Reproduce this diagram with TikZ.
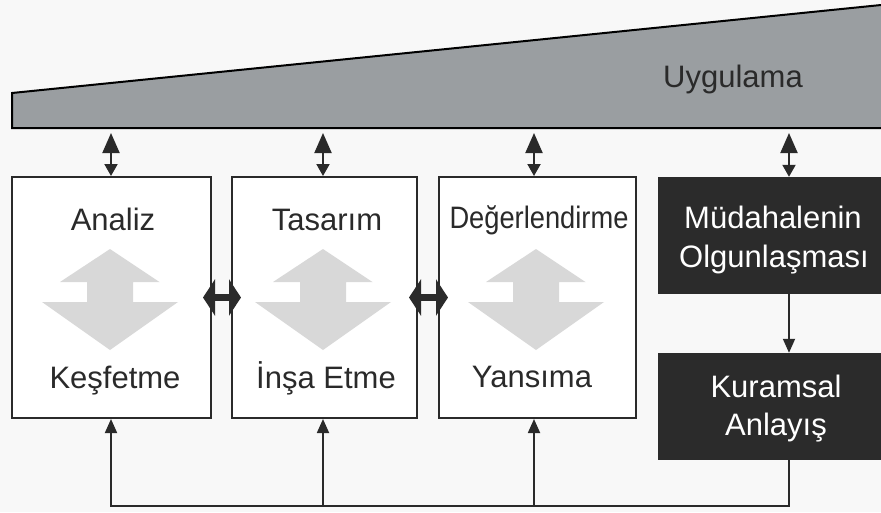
\documentclass[tikz,border=0pt]{standalone}
\usepackage{fontspec}
\setmainfont{Liberation Sans}
\usetikzlibrary{arrows.meta,calc}
\definecolor{bgc}{HTML}{F8F8F8}
\definecolor{wedgec}{HTML}{9A9EA1}
\definecolor{darkc}{HTML}{2B2B2B}
\definecolor{inkc}{HTML}{2A2A2A}
\definecolor{ghost}{HTML}{D8D8D8}
\begin{document}
\begin{tikzpicture}[x=1pt,y=-1pt,
  wbox/.style={draw=inkc, line width=2pt, fill=white, inner sep=0pt, minimum height=241pt},
  dbox/.style={fill=darkc, inner sep=0pt, minimum width=223pt},
  lbl/.style={text=inkc, font=\fontsize{31}{39}\selectfont, inner sep=0pt, anchor=base},
  wlbl/.style={text=white, font=\fontsize{31}{39}\selectfont, inner sep=0pt, anchor=base},
  vdbl/.style={draw=inkc, line width=2pt, {Triangle[width=17pt,length=20pt]}-{Triangle[width=13pt,length=12pt]}},
  hdbl/.style={draw=darkc, line width=7pt, {Triangle[width=36pt,length=12pt]}-{Triangle[width=36pt,length=12pt]}, shorten <=-9pt, shorten >=-10pt},
  conn/.style={draw=inkc, line width=1.8pt, line join=miter, -{Triangle[width=12pt,length=14pt]}},
  ghostarrow/.pic={\fill[ghost] (-1.5,-48.5) -- (48,-15.5) -- (21.5,-15.5) -- (21.5,4.5) -- (66.5,4.5) -- (-1.5,52.5) -- (-69.5,4.5) -- (-24.5,4.5) -- (-24.5,-15.5) -- (-51.5,-15.5) -- cycle;}
]
\fill[bgc] (0,0) rectangle (881,512);
\useasboundingbox (0,0) rectangle (881,512);

% wedge
\fill[wedgec] (12,93) -- (881,5) -- (881,128) -- (12,128) -- cycle;
\draw[black, line width=2pt, line join=miter] (881,128) -- (12,128) -- (12,93) -- (881,5);
\node[text=inkc, font=\fontsize{31}{39}\selectfont, inner sep=0pt, anchor=base] (uyg) at (733,87) {Uygulama};

% boxes
\node[wbox, minimum width=199pt] (b1) at (111.5,297.5) {};
\node[wbox, minimum width=185pt] (b2) at (324.5,297.5) {};
\node[wbox, minimum width=197pt] (b3) at (537.5,297.5) {};
\node[dbox, minimum height=117pt] (d1) at (769.5,235.5) {};
\node[dbox, minimum height=107pt] (d2) at (769.5,406.5) {};

% ghost arrows
\pic (g1) at (b1.center) {ghostarrow};
\pic (g2) at (b2.center) {ghostarrow};
\pic (g3) at (b3.center) {ghostarrow};

% labels
\node[lbl] (l1a) at (113,230) {Analiz};
\node[lbl] (l1b) at (115,388) {Keşfetme};
\node[lbl] (l2a) at (327,230) {Tasarım};
\node[lbl] (l2b) at (326,388) {İnşa Etme};
\node[lbl] (l3a) at (539,228) {\scalebox{0.88}[1]{Değerlendirme}};
\node[lbl] (l3b) at (532,387) {Yansıma};
\node[wlbl] (l4a) at (773,228) {Müdahalenin};
\node[wlbl] (l4b) at (774,267) {Olgunlaşması};
\node[wlbl] (l5a) at (776,397) {Kuramsal};
\node[wlbl] (l5b) at (776,435) {Anlayış};

% vertical double arrows
\coordinate (u1) at (111,133);
\coordinate (u2) at (323,133);
\coordinate (u3) at (534,133);
\coordinate (u4) at (789,133);
\draw[vdbl] (u1) -- (u1 |- b1.north);
\draw[vdbl] (u2) -- (u2 |- b2.north);
\draw[vdbl] (u3) -- (u3 |- b3.north);
\draw[vdbl] (u4) -- (u4 |- d1.north);

% horizontal fat arrows
\draw[hdbl] (b1.east) -- (b2.west);
\draw[hdbl] (b2.east) -- (b3.west);

% dark boxes link
\draw[conn] (d1.south -| u4) -- (d2.north -| u4);

% feedback
\coordinate (fb) at (789,506);
\draw[conn] (d2.south -| fb) -- (fb) -- (fb -| u1) -- (u1 |- b1.south);
\draw[conn] (fb -| u2) -- (u2 |- b2.south);
\draw[conn] (fb -| u3) -- (u3 |- b3.south);
\end{tikzpicture}
\end{document}
